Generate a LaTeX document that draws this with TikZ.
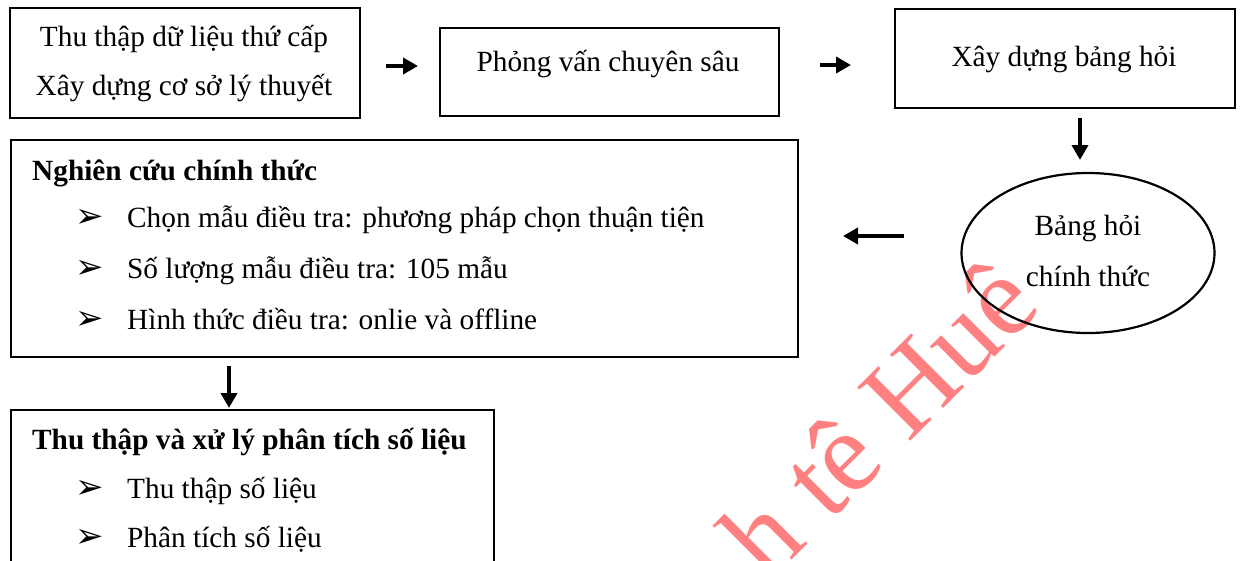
\documentclass[tikz,border=0pt]{standalone}
\usepackage{fontspec}
\setmainfont{Liberation Serif}
\newfontfamily\symfont{DejaVu Sans}
\usetikzlibrary{arrows.meta,shapes.geometric}

\begin{document}
\begin{tikzpicture}[x=1pt,y=-1pt,
  box/.style={draw, line width=2.2pt, rectangle, inner sep=0pt, anchor=north west},
  txt/.style={inner sep=0pt, font=\fontsize{29.3}{34}\selectfont},
  head/.style={txt, font=\fontsize{29.3}{34}\selectfont\bfseries, anchor=base west},
  item/.style={txt, anchor=base west},
  bul/.style={inner sep=0pt, anchor=center, font=\fontsize{34}{34}\symfont},
  flow/.style={line width=4pt, -{Triangle[length=15pt,width=16pt]}},
  stampstyle/.style={inner sep=0pt, anchor=base west, rotate=45, text=red!50,
    font=\fontsize{115}{115}\selectfont},
]
\useasboundingbox (0,0) rectangle (1240,560);
\clip (0,0) rectangle (1240,560);

% faint stamp across the lower right
\node[stampstyle] (stamp) at (768,584) {h tê Huê};

% top row
\node[box, minimum width=350pt, minimum height=110pt] (b1) at (9,7) {};
\node[txt, anchor=base] (b1a) at (184,46) {Thu thập dữ liệu thứ cấp};
\node[txt, anchor=base] (b1b) at (184,95) {Xây dựng cơ sở lý thuyết};

\node[box, minimum width=339pt, minimum height=88pt] (b2) at (439,27) {};
\node[txt, anchor=base] (b2a) at (608,71) {Phỏng vấn chuyên sâu};

\node[box, minimum width=340pt, minimum height=99pt] (b3) at (894,8) {};
\node[txt, anchor=base] (b3a) at (1064,66) {Xây dựng bảng hỏi};

% final questionnaire
\node[draw, ellipse, line width=2.2pt, minimum width=253pt, minimum height=160pt] (bh) at (1088,253) {};
\node[txt, anchor=base] (bha) at (1088,235) {Bảng hỏi};
\node[txt, anchor=base] (bhb) at (1088,286) {chính thức};

% main survey
\node[box, minimum width=787pt, minimum height=217pt] (b4) at (10,139) {};
\node[head] (b4h) at (32,180) {Nghiên cứu chính thức};
\node[bul] (p1) at (90,218) {➢};
\node[item] (t1) at (127,227) {Chọn mẫu điều tra: phương pháp chọn thuận tiện};
\node[bul] (p2) at (90,269) {➢};
\node[item] (t2) at (127,278) {Số lượng mẫu điều tra: 105 mẫu};
\node[bul] (p3) at (90,320) {➢};
\node[item] (t3) at (127,329) {Hình thức điều tra: onlie và offline};

% data processing
\node[box, minimum width=483pt, minimum height=170pt] (b5) at (10,409) {};
\node[head] (b5h) at (32,449) {Thu thập và xử lý phân tích số liệu};
\node[bul] (q1) at (90,489) {➢};
\node[item] (s1) at (127,498) {Thu thập số liệu};
\node[bul] (q2) at (90,538) {➢};
\node[item] (s2) at (127,547) {Phân tích số liệu};

% arrow end points
\coordinate (a1s) at (386,66);  \coordinate (a1e) at (418,66);
\coordinate (a2s) at (820,65);  \coordinate (a2e) at (851,65);
\coordinate (a3s) at (1080,118); \coordinate (a3e) at (1080,160);
\coordinate (a4s) at (904,236); \coordinate (a4e) at (843,236);
\coordinate (a5s) at (229,366); \coordinate (a5e) at (229,408);

\draw[flow] (a1s) -- (a1e);
\draw[flow] (a2s) -- (a2e);
\draw[flow] (a3s) -- (a3e);
\draw[flow] (a4s) -- (a4e);
\draw[flow] (a5s) -- (a5e);
\end{tikzpicture}
\end{document}
